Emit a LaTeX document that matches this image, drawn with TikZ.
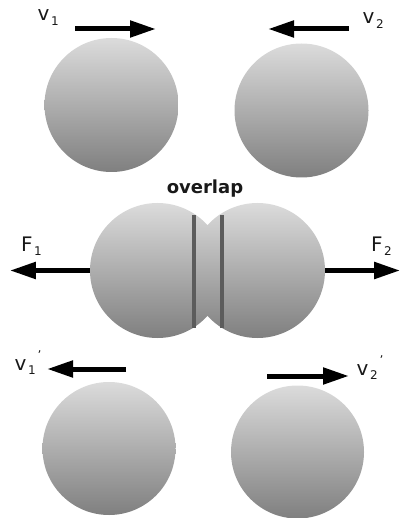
\documentclass[tikz,border=0pt]{standalone}
\usepackage{fontspec}
\setmainfont{DejaVu Sans}
\usetikzlibrary{arrows.meta}
\definecolor{ballTop}{gray}{0.86}
\definecolor{ballBot}{gray}{0.50}
\definecolor{divcol}{gray}{0.36}
\newcommand{\mysub}[1]{\kern1.5pt\raisebox{-4.5pt}{\fontsize{12}{12}\selectfont #1}}
\newcommand{\myprm}{\kern2pt\raisebox{11pt}{\fontsize{12}{12}\selectfont ’}}
\tikzset{
  ball/.style={circle, draw=none, inner sep=0pt, minimum size=#1, top color=ballTop, bottom color=ballBot},
  vec/.style={line width=5pt, -{Triangle[length=26pt,width=16pt]}},
  lbl/.style={anchor=base west, inner sep=0pt, font=\fontsize{20}{20}\selectfont, text=black!90},
  divider/.style={draw=divcol, line width=4pt},
  ovl/.style={anchor=base, inner sep=0pt, font=\fontsize{18}{18}\selectfont\bfseries, text=black!90}
}
\begin{document}
\begin{tikzpicture}[x=1pt,y=-1pt]
\useasboundingbox (0,0) rectangle (402,518);
% top row
\node[ball=134pt] (b1) at (111.5,105) {};
\node[ball=134pt] (b2) at (301.5,110.5) {};
\coordinate (v1s) at (75,29);
\coordinate (v1e) at (156,29);
\coordinate (v2s) at (349,29);
\coordinate (v2e) at (268,29);
\draw[vec] (v1s) -- (v1e);
\draw[vec] (v2s) -- (v2e);
\node[lbl] (lv1) at (37.5,21) {v\mysub{1}};
\node[lbl] (lv2) at (362.5,24) {v\mysub{2}};
% middle
\node[ovl] (ov) at (205,194) {overlap};
\node[ball=135pt] (m1) at (157.5,270.5) {};
\node[ball=135pt] (m2) at (257.5,270.5) {};
\coordinate (d1t) at (194,215);
\coordinate (d1b) at (194,328);
\coordinate (d2t) at (222,215);
\coordinate (d2b) at (222,328);
\draw[divider] (d1t) -- (d1b);
\draw[divider] (d2t) -- (d2b);
\draw[vec] (m1.west) -- ++(-80,0) coordinate (f1e);
\draw[vec] (m2.east) -- ++(75,0) coordinate (f2e);
\node[lbl] (lf1) at (21,251) {F\mysub{1}};
\node[lbl] (lf2) at (371,251) {F\mysub{2}};
% bottom row
\node[ball=133pt] (b3) at (109,448.5) {};
\node[ball=133pt] (b4) at (297.5,452) {};
\coordinate (w1s) at (126,369);
\coordinate (w1e) at (47,369);
\coordinate (w2s) at (267,376);
\coordinate (w2e) at (349,376);
\draw[vec] (w1s) -- (w1e);
\draw[vec] (w2s) -- (w2e);
\node[lbl] (lw1) at (14.5,370) {v\mysub{1}\myprm};
\node[lbl] (lw2) at (356.5,375) {v\mysub{2}\myprm};
\end{tikzpicture}
\end{document}
